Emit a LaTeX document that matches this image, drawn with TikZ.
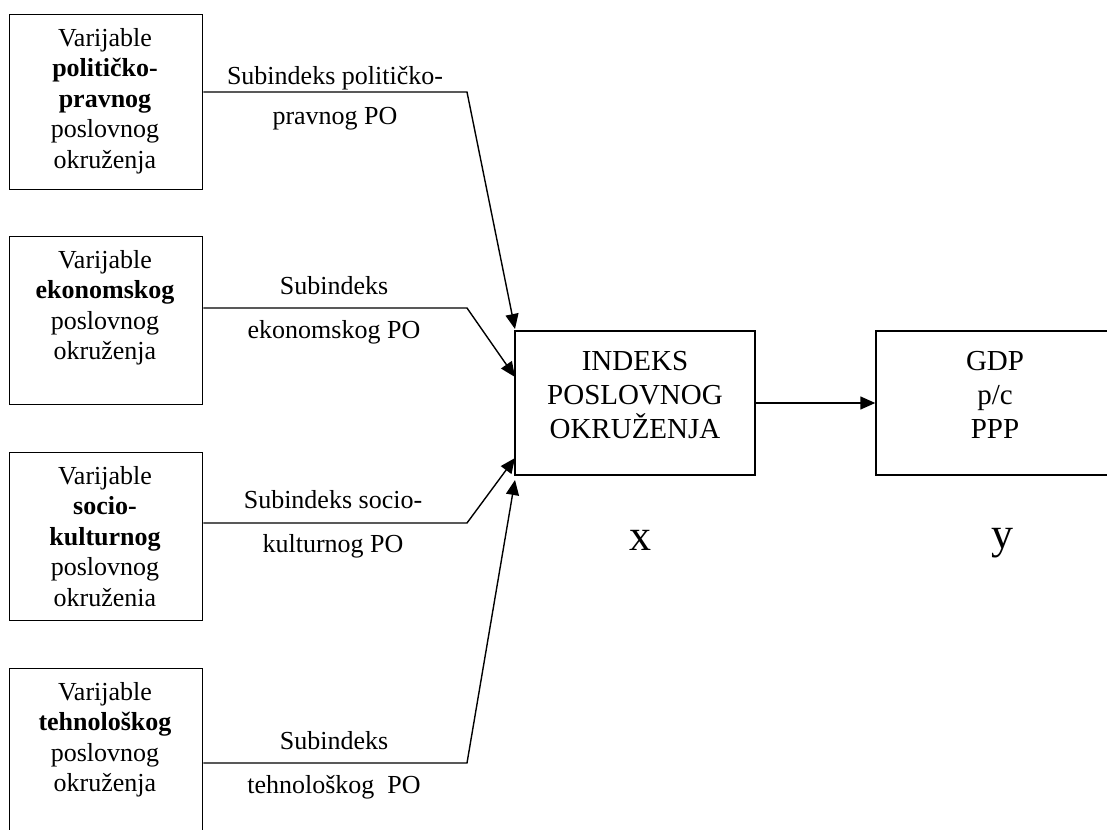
\documentclass[tikz,border=0pt]{standalone}
\usepackage{fontspec}
\setmainfont{Liberation Serif}
\usetikzlibrary{arrows.meta}
\tikzset{
  varbox/.style={draw, line width=1.4bp, minimum width=193bp, inner sep=0pt, anchor=north west},
  vartext/.style={anchor=north, inner sep=0pt, align=center, font=\fontsize{26bp}{30.5bp}\selectfont},
  sublabel/.style={inner sep=0pt, align=center, font=\fontsize{26bp}{44bp}\selectfont},
  bigbox/.style={draw, line width=1.4bp, inner sep=0pt},
  bigtext/.style={inner sep=0pt, align=center, font=\fontsize{29bp}{34bp}\selectfont},
  varlab/.style={inner sep=0pt, font=\fontsize{44bp}{44bp}\selectfont},
  conn/.style={line width=1.4bp, -{Triangle[length=15bp,width=13bp]}},
}
\begin{document}
\begin{tikzpicture}[x=1bp,y=-1bp]
\useasboundingbox (0,0) rectangle (1107,830);
\begin{scope}
\clip (0,0) rectangle (1107,830);
% left boxes
\node[varbox, minimum height=175bp] (b1) at (9,14) {};
\node[varbox, minimum height=168bp] (b2) at (9,236) {};
\node[varbox, minimum height=168bp] (b3) at (9,452) {};
\node[varbox, minimum height=190bp] (b4) at (9,668) {};
\node[vartext] (t1) at (105,28) {Varijable\\\textbf{političko-}\\\textbf{pravnog}\\poslovnog\\okruženja};
\node[vartext] (t2) at (105,250) {Varijable\\\textbf{ekonomskog}\\poslovnog\\okruženja};
\node[vartext] (t3) at (105,466) {Varijable\\\textbf{socio-}\\\textbf{kulturnog}\\poslovnog\\okruženia};
\node[vartext] (t4) at (105,682) {Varijable\\\textbf{tehnološkog}\\poslovnog\\okruženja};
% central boxes
\node[bigbox, minimum width=240bp, minimum height=144bp] (ix) at (635,403) {};
\node[bigtext] (ixt) at (635,395) {INDEKS\\POSLOVNOG\\OKRUŽENJA};
\node[bigbox, minimum width=238bp, minimum height=144bp] (gdp) at (995,403) {};
\node[bigtext] (gdpt) at (995,395) {GDP\\p/c\\PPP};
\node[varlab] (xl) at (640,540) {x};
\node[varlab] (yl) at (1002,543) {y};
% connector labels
\node[sublabel, font=\fontsize{26bp}{40bp}\selectfont] (l1) at (335,98) {Subindeks političko-\\pravnog PO};
\node[sublabel] (l2) at (334,310) {Subindeks\\ekonomskog PO};
\node[sublabel] (l3) at (333,524) {Subindeks socio-\\kulturnog PO};
\node[sublabel] (l4) at (334,765) {Subindeks\\tehnološkog\ \ PO};
% corner and end coordinates
\coordinate (c1) at (467,92);
\coordinate (c2) at (467,308);
\coordinate (c3) at (467,523);
\coordinate (c4) at (467,763);
\coordinate (e1) at (515,329);
\coordinate (e2) at (515,377);
\coordinate (e3) at (515,458);
\coordinate (e4) at (515,480);
\draw[conn] (b1.east |- c1) -- (c1) -- (e1);
\draw[conn] (b2.east |- c2) -- (c2) -- (e2);
\draw[conn] (b3.east |- c3) -- (c3) -- (e3);
\draw[conn] (b4.east |- c4) -- (c4) -- (e4);
\draw[conn] (ix.east) -- (gdp.west);
\end{scope}
\end{tikzpicture}
\end{document}
